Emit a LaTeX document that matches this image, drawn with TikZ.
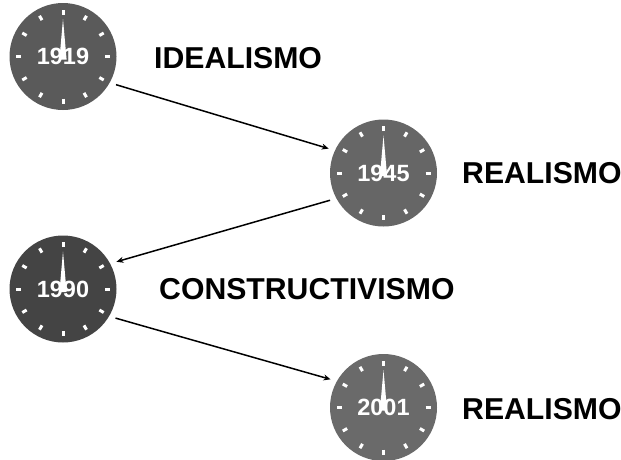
\documentclass[tikz,border=0pt]{standalone}
\usepackage{fontspec}
\setmainfont{Liberation Sans}
\usetikzlibrary{arrows.meta,calc}
\tikzset{
  dial/.style={circle,minimum size=107pt,inner sep=0pt,outer sep=6.5pt,text=white,font=\fontsize{23.5}{23.5}\selectfont\bfseries},
  era/.style={anchor=base west,inner sep=0pt,font=\fontsize{30.2}{30.2}\selectfont\bfseries},
  link/.style={draw=black,line width=1.5pt,-{Stealth[length=7pt,width=6pt]}},
  tick/.style={draw=white,line width=3pt},
  hand/.style={fill=white,draw=none}
}
\newcommand{\clockface}[2]{%
  \fill[#2] (#1) circle (53.5pt);
  \foreach \a in {0,30,...,330}{\draw[tick] ($(#1)+(\a:42pt)$) -- ($(#1)+(\a:47pt)$);}
  \fill[hand] ($(#1)+(0,37.5pt)$) -- ($(#1)+(3.6pt,-3pt)$) -- ($(#1)+(-3.6pt,-3pt)$) -- cycle;
}
\definecolor{cA}{HTML}{5A5A5A}
\definecolor{cB}{HTML}{666666}
\definecolor{cC}{HTML}{444444}
\definecolor{cD}{HTML}{6A6A6A}
\begin{document}
\begin{tikzpicture}[x=1pt,y=-1pt]
\useasboundingbox (0,0) rectangle (621,459);
\coordinate (p1) at (63,56.5);
\coordinate (p2) at (383.5,173);
\coordinate (p3) at (63,289);
\coordinate (p4) at (383.5,407.5);
\clockface{p1}{cA}
\clockface{p2}{cB}
\clockface{p3}{cC}
\clockface{p4}{cD}
\node[dial] (c1) at (p1) {1919};
\node[dial] (c2) at (p2) {1945};
\node[dial] (c3) at (p3) {1990};
\node[dial] (c4) at (p4) {2001};
\draw[link] (c1.-28) -- (c2.156);
\draw[link] (c2.207) -- (c3.27);
\draw[link] (c3.-29) -- (c4.152);
\node[era] (t1) at (154,68) {IDEALISMO};
\node[era] (t2) at (462,183) {REALISMO};
\node[era] (t3) at (159,299) {CONSTRUCTIVISMO};
\node[era] (t4) at (462,419) {REALISMO};
\end{tikzpicture}
\end{document}
